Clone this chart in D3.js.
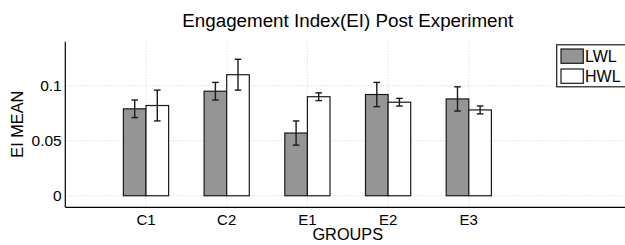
<!DOCTYPE html>
<html>
<head>
<meta charset="utf-8">
<script src="https://cdn.jsdelivr.net/npm/d3@7"></script>
<style>
  body { margin: 0; background: #fff; }
  svg { display: block; font-family: "Liberation Sans", Arial, sans-serif; }
</style>
</head>
<body>
<div id="graph"></div>
<script>
// data
const groups = ["C1", "C2", "E1", "E2", "E3"];
const seriesNames = ["LWL", "HWL"];
const lwlMean = [0.079, 0.095, 0.057, 0.092, 0.088];
const lwlErr = [0.008, 0.008, 0.011, 0.011, 0.011];
const hwlMean = [0.082, 0.110, 0.090, 0.085, 0.078];
const hwlErr = [0.014, 0.014, 0.0035, 0.0035, 0.0036];
const yTicks = [0, 0.05, 0.1];

const w = 625, h = 245;
const margin = { left: 65.3, top: 41.7, bottom: 37.7 };
const plotW = 80.7 * 7;

const svg = d3.select("#graph").append("svg")
    .attr("width", w)
    .attr("height", h);

const x = d3.scaleLinear().domain([0, 7]).range([margin.left, margin.left + plotW]);
const y = d3.scaleLinear().domain([-0.0105, 0.14]).range([h - margin.bottom, margin.top]);
const barW = 22.6;

// grid
const grid = svg.append("g")
    .attr("stroke", "#c8c8c8")
    .attr("stroke-dasharray", "1,2")
    .attr("stroke-width", 0.8);
groups.forEach((g, i) => {
    grid.append("line")
        .attr("x1", x(i + 1)).attr("x2", x(i + 1))
        .attr("y1", y.range()[1]).attr("y2", y.range()[0]);
});
yTicks.forEach(t => {
    grid.append("line")
        .attr("x1", x(0)).attr("x2", x(7))
        .attr("y1", y(t)).attr("y2", y(t));
});

// bars
const rows = groups.map((g, i) => ({
    g: g, i: i,
    vals: [
        { s: 0, m: lwlMean[i], e: lwlErr[i] },
        { s: 1, m: hwlMean[i], e: hwlErr[i] }
    ]
}));
const fills = ["#959595", "#ffffff"];

const grp = svg.selectAll("g.grp")
    .data(rows)
    .enter()
    .append("g")
    .attr("class", "grp");

grp.selectAll("rect")
    .data(d => d.vals.map(v => Object.assign({ i: d.i }, v)))
    .enter()
    .append("rect")
    .attr("x", d => x(d.i + 1) - (d.s === 0 ? barW : 0))
    .attr("y", d => y(d.m))
    .attr("width", barW)
    .attr("height", d => y(0) - y(d.m))
    .attr("fill", d => fills[d.s])
    .attr("stroke", "#1a1a1a")
    .attr("stroke-width", 1.2);

// error bars
const errs = grp.selectAll("g.err")
    .data(d => d.vals.map(v => Object.assign({ i: d.i }, v)))
    .enter()
    .append("g")
    .attr("stroke", "#1a1a1a")
    .attr("stroke-width", 1.4);
const cx = d => x(d.i + 1) + (d.s === 0 ? -barW / 2 : barW / 2);
errs.append("line")
    .attr("x1", cx).attr("x2", cx)
    .attr("y1", d => y(d.m + d.e)).attr("y2", d => y(d.m - d.e));
errs.append("line")
    .attr("x1", d => cx(d) - 3.3).attr("x2", d => cx(d) + 3.3)
    .attr("y1", d => y(d.m + d.e)).attr("y2", d => y(d.m + d.e));
errs.append("line")
    .attr("x1", d => cx(d) - 3.3).attr("x2", d => cx(d) + 3.3)
    .attr("y1", d => y(d.m - d.e)).attr("y2", d => y(d.m - d.e));

// axes
svg.append("line")
    .attr("x1", x(0)).attr("x2", x(0))
    .attr("y1", y.range()[1]).attr("y2", y.range()[0])
    .attr("stroke", "#000").attr("stroke-width", 1.2);
svg.append("line")
    .attr("x1", x(0)).attr("x2", x(7))
    .attr("y1", y.range()[0]).attr("y2", y.range()[0])
    .attr("stroke", "#000").attr("stroke-width", 1.2);

svg.selectAll("text.ytick")
    .data(yTicks)
    .enter()
    .append("text")
    .attr("x", x(0) - 3.6)
    .attr("y", d => y(d))
    .attr("dy", "0.36em")
    .attr("text-anchor", "end")
    .style("font-size", "15.5px")
    .text(d => d === 0 ? "0" : d3.format("~g")(d));

svg.selectAll("text.xtick")
    .data(groups)
    .enter()
    .append("text")
    .attr("x", (d, i) => x(i + 1))
    .attr("y", 225)
    .attr("text-anchor", "middle")
    .style("font-size", "15px")
    .text(d => d);

svg.append("text")
    .attr("x", x(3.5))
    .attr("y", 239.5)
    .attr("text-anchor", "middle")
    .style("font-size", "16.3px")
    .text("GROUPS");

svg.append("text")
    .attr("transform", "translate(22.7," + y(0.065) + ") rotate(-90)")
    .attr("text-anchor", "middle")
    .style("font-size", "16.3px")
    .text("EI MEAN");

svg.append("text")
    .attr("x", x(3.5))
    .attr("y", 26.5)
    .attr("text-anchor", "middle")
    .style("font-size", "18.8px")
    .text("Engagement Index(EI) Post Experiment");

// legend
const leg = svg.append("g").attr("transform", "translate(556.7,44.8)");
leg.append("rect")
    .attr("width", 80).attr("height", 42)
    .attr("fill", "#fff").attr("stroke", "#1a1a1a").attr("stroke-width", 1.2);
seriesNames.forEach((s, k) => {
    leg.append("rect")
        .attr("x", 4.3).attr("y", 4.2 + k * 20)
        .attr("width", 22.3).attr("height", 14.3)
        .attr("fill", fills[k]).attr("stroke", "#1a1a1a").attr("stroke-width", 1.2);
    leg.append("text")
        .attr("x", 28.3).attr("y", 11.5 + k * 20)
        .attr("dy", "0.36em")
        .style("font-size", "16px")
        .text(s);
});
</script>
</body>
</html>
